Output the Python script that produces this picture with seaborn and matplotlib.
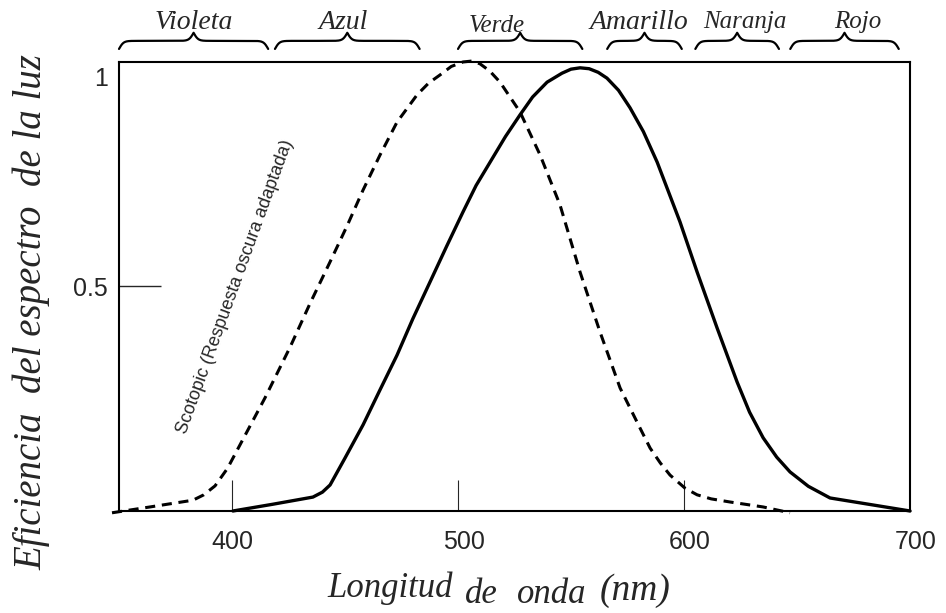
import numpy as np
import pandas as pd
import seaborn as sns
import matplotlib.pyplot as plt
from matplotlib import transforms

# curves (wavelength in nm, relative efficiency)
wl_scotopic = [346.9, 363.7, 382.7, 387.5, 392.5, 398.0, 403.5, 414.6, 425.7, 434.5,
               443.4, 451.0, 458.0, 465.5, 473.0, 481.9, 487.0, 492.0, 497.0, 502.2,
               506.0, 509.7, 514.0, 518.6, 527.4, 536.3, 545.1, 554.0, 562.8, 571.7,
               580.5, 585.0, 589.5, 593.8, 600.4, 605.8, 612.0, 620.4, 635.0, 646.9]
eff_scotopic = [-0.004, 0.009, 0.024, 0.036, 0.056, 0.095, 0.147, 0.252, 0.365, 0.462,
                0.555, 0.636, 0.715, 0.793, 0.866, 0.927, 0.953, 0.971, 0.990, 1.000,
                1.002, 0.996, 0.980, 0.955, 0.889, 0.793, 0.682, 0.532, 0.399, 0.274,
                0.185, 0.140, 0.107, 0.080, 0.051, 0.036, 0.027, 0.020, 0.009, -0.004]

wl_photopic = [400.4, 418.0, 435.8, 440.0, 443.4, 450.0, 458.0, 465.5, 473.0, 480.0,
               487.6, 495.0, 502.2, 508.0, 514.2, 521.0, 527.4, 533.0, 539.4, 546.0,
               550.0, 554.0, 558.0, 562.0, 565.9, 571.0, 576.1, 582.0, 588.1, 598.2,
               605.8, 614.6, 623.5, 629.0, 635.0, 641.0, 646.9, 655.0, 664.6, 700.0]
eff_photopic = [0.000, 0.015, 0.031, 0.042, 0.058, 0.118, 0.192, 0.270, 0.347, 0.428,
                0.510, 0.590, 0.666, 0.725, 0.777, 0.834, 0.882, 0.922, 0.955, 0.975,
                0.984, 0.987, 0.985, 0.977, 0.964, 0.937, 0.898, 0.845, 0.777, 0.644,
                0.532, 0.408, 0.287, 0.220, 0.163, 0.120, 0.087, 0.055, 0.029, 0.000]

band_names = ['Violeta', 'Azul', 'Verde', 'Amarillo', 'Naranja', 'Rojo']
band_start = [350, 419, 500, 566, 605, 647]
band_end = [416, 483, 555, 599, 642, 695]
band_label_x = [383, 449, 517, 580, 627, 677]
band_label_size = [20, 20, 18, 20, 18, 18]

x_ticks = [400, 500, 600, 700]
y_ticks = [0.5, 1]

sns.set_style("ticks")
plt.rcParams['font.family'] = ['Liberation Sans', 'DejaVu Sans']
serif = ['Liberation Serif', 'DejaVu Serif']

df_s = pd.DataFrame({'wl': wl_scotopic, 'eff': eff_scotopic})
df_p = pd.DataFrame({'wl': wl_photopic, 'eff': eff_photopic})

fig = plt.figure(figsize=(9.46, 6.13), dpi=100)
ax = fig.add_axes([0.1258, 0.1664, 0.8362, 0.7325])

sns.lineplot(data=df_s, x='wl', y='eff', ax=ax, color='black', lw=2.2,
             linestyle=(0, (3.3, 2.2)), sort=False, estimator=None, clip_on=False)
sns.lineplot(data=df_p, x='wl', y='eff', ax=ax, color='black', lw=2.4,
             sort=False, estimator=None, clip_on=False)

ax.set_xlim(350, 700)
ax.set_ylim(0, 1)
ax.set_xticks(x_ticks)
ax.set_xticklabels([str(t) for t in x_ticks])
ax.set_yticks(y_ticks)
ax.set_yticklabels(['0.5', '1'])
ax.tick_params(axis='x', direction='in', length=22, width=0.8, pad=14, labelsize=18)
ax.tick_params(axis='y', direction='in', length=30, width=1.0, pad=8, labelsize=18)
ax.set_xlabel('')
ax.set_ylabel('')
for s in ax.spines.values():
    s.set_visible(True)
    s.set_linewidth(1.5)
    s.set_color('black')

# no tick marks on the frame corners (1 and 700)
ax.yaxis.get_major_ticks()[1].tick1line.set_visible(False)
ax.xaxis.get_major_ticks()[3].tick1line.set_visible(False)

# push the "1" label down a bit like the original, x labels slightly right
lab1 = ax.get_yticklabels()[1]
lab1.set_transform(lab1.get_transform() +
                   transforms.ScaledTranslation(0, -0.15, fig.dpi_scale_trans))
for lab in ax.get_xticklabels()[1:]:
    lab.set_transform(lab.get_transform() +
                      transforms.ScaledTranslation(0.06, 0, fig.dpi_scale_trans))

# braces + colour names above the plot
trans = transforms.blended_transform_factory(ax.transData, ax.transAxes)
for name, x0, x1, lx, fs in zip(band_names, band_start, band_end, band_label_x, band_label_size):
    n = 151
    half = np.linspace(0, (x1 - x0) / 2, n)
    beta = 1.0
    yh = 1 / (1 + np.exp(-beta * (half - half[0]))) + 1 / (1 + np.exp(-beta * (half - half[-1])))
    xs = np.concatenate([x0 + half, x1 - half[-2::-1]])
    ys = np.concatenate([yh, yh[-2::-1]])
    ys = 1.029 + (ys - 0.5) * 0.036
    ax.plot(xs, ys, color='black', lw=1.6, transform=trans, clip_on=False)
    ly = 1.080 if name == 'Verde' else 1.089
    ax.text(lx, ly, name, transform=trans, ha='center', va='center',
            fontsize=fs, family=serif, style='italic')

ax.text(401.3, 0.50, 'Scotopic (Respuesta oscura adaptada)', rotation=70,
        rotation_mode='anchor', ha='center', va='center', fontsize=13)

fig.text(32 / 946, 1 - 312 / 613, 'Eficiencia  del espectro  de la luz', rotation=90,
         ha='center', va='center', fontsize=28, family=serif, style='italic')

fig.text(327 / 946, 1 - 597 / 613, 'Longitud', ha='left', va='baseline',
         fontsize=25, family=serif, style='italic')
fig.text(465 / 946, 1 - 603 / 613, 'de', ha='left', va='baseline',
         fontsize=25, family=serif, style='italic')
fig.text(517 / 946, 1 - 603 / 613, 'onda', ha='left', va='baseline',
         fontsize=25, family=serif, style='italic')
fig.text(600 / 946, 1 - 600 / 613, '(nm)', ha='left', va='baseline',
         fontsize=27, family=serif, style='italic')

fig.savefig('out.png', dpi=100)
